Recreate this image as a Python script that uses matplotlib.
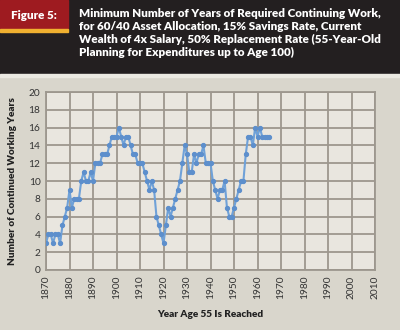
import numpy as np
import matplotlib
matplotlib.use("Agg")
import matplotlib.pyplot as plt
from matplotlib.patches import Rectangle

# years from 1870 to 1965, one point per year
years = list(range(1870, 1966))
work_years = [3, 4, 4, 3, 4, 4, 3,
              5, 6, 7, 9, 7, 8, 8, 8, 10, 11, 10, 10, 11, 10, 12, 12, 12,
              13, 13, 13, 14, 15, 15, 15, 16,
              15, 14, 15, 15, 14, 13, 13, 12, 12, 12, 11, 10, 9, 10, 9, 6, 5, 4, 3,
              5, 7, 6, 7, 8, 9, 10, 12, 14,
              13, 11, 11, 13, 12, 13, 13, 14,
              12, 12, 12, 10, 9, 8, 9, 9, 10, 7, 6, 6, 7, 8, 9, 10, 10, 13,
              15, 15, 14, 16, 15, 16, 15, 15, 15, 15]
x_ticks = list(range(1870, 2011, 10))
y_ticks = list(range(0, 21, 2))

fig_label = "Figure 5:"
title = ("Minimum Number of Years of Required Continuing Work,\n"
         "for 60/40 Asset Allocation, 15% Savings Rate, Current\n"
         "Wealth of 4x Salary, 50% Replacement Rate (55-Year-Old\n"
         "Planning for Expenditures up to Age 100)")

plt.rcParams['font.family'] = ['Lato', 'DejaVu Sans']

fig = plt.figure(figsize=(4.0, 3.3), dpi=100)
fig.patch.set_facecolor('#d9d6cc')

# header band
fig.patches.append(Rectangle((0, 0.776), 1, 0.224, transform=fig.transFigure,
                             color='#231f20', zorder=0))
fig.patches.append(Rectangle((0, 0.768), 1, 0.008, transform=fig.transFigure,
                             color='#ebe9e2', zorder=0))
fig.patches.append(Rectangle((0, 0.915), 0.17, 0.085, transform=fig.transFigure,
                             color='#9e1b20', zorder=1))
fig.patches.append(Rectangle((0, 0.903), 0.17, 0.010, transform=fig.transFigure,
                             color='#f0b030', zorder=1))

fig.text(0.028, 0.952, fig_label, color='white', fontsize=8.4, fontweight='heavy',
         va='center', ha='left')
fig.text(0.198, 0.975, title, color='white', fontsize=8.4, fontweight='heavy',
         va='top', ha='left', linespacing=1.2)

ax = fig.add_axes([0.115, 0.182, 0.8225, 0.539])
ax.set_facecolor('#e9e6df')
ax.plot(years, work_years, color='#6fa1d8', lw=1.5, marker='o', ms=2.8,
        mfc='#5d8fcc', mec='#5d8fcc', zorder=3)

ax.set_xlim(1870, 2010)
ax.set_ylim(0, 20)
ax.set_xticks(x_ticks)
ax.set_yticks(y_ticks)
ax.set_xticklabels([str(t) for t in x_ticks], rotation=90)
ax.grid(True, color='#9d978e', lw=1.3)
ax.set_axisbelow(True)
for sp in ax.spines.values():
    sp.set_color('#9d978e')
    sp.set_linewidth(1.3)
ax.tick_params(length=0, labelsize=7.3, colors='#333333', pad=4)

ax.set_ylabel("Number of Continued Working Years", fontsize=7.2, fontweight='heavy',
              color='#222222', labelpad=8)
ax.set_xlabel("Year Age 55 Is Reached", fontsize=7.2, fontweight='heavy',
              color='#222222', labelpad=8)

fig.savefig("out.png", dpi=100, facecolor=fig.get_facecolor())
